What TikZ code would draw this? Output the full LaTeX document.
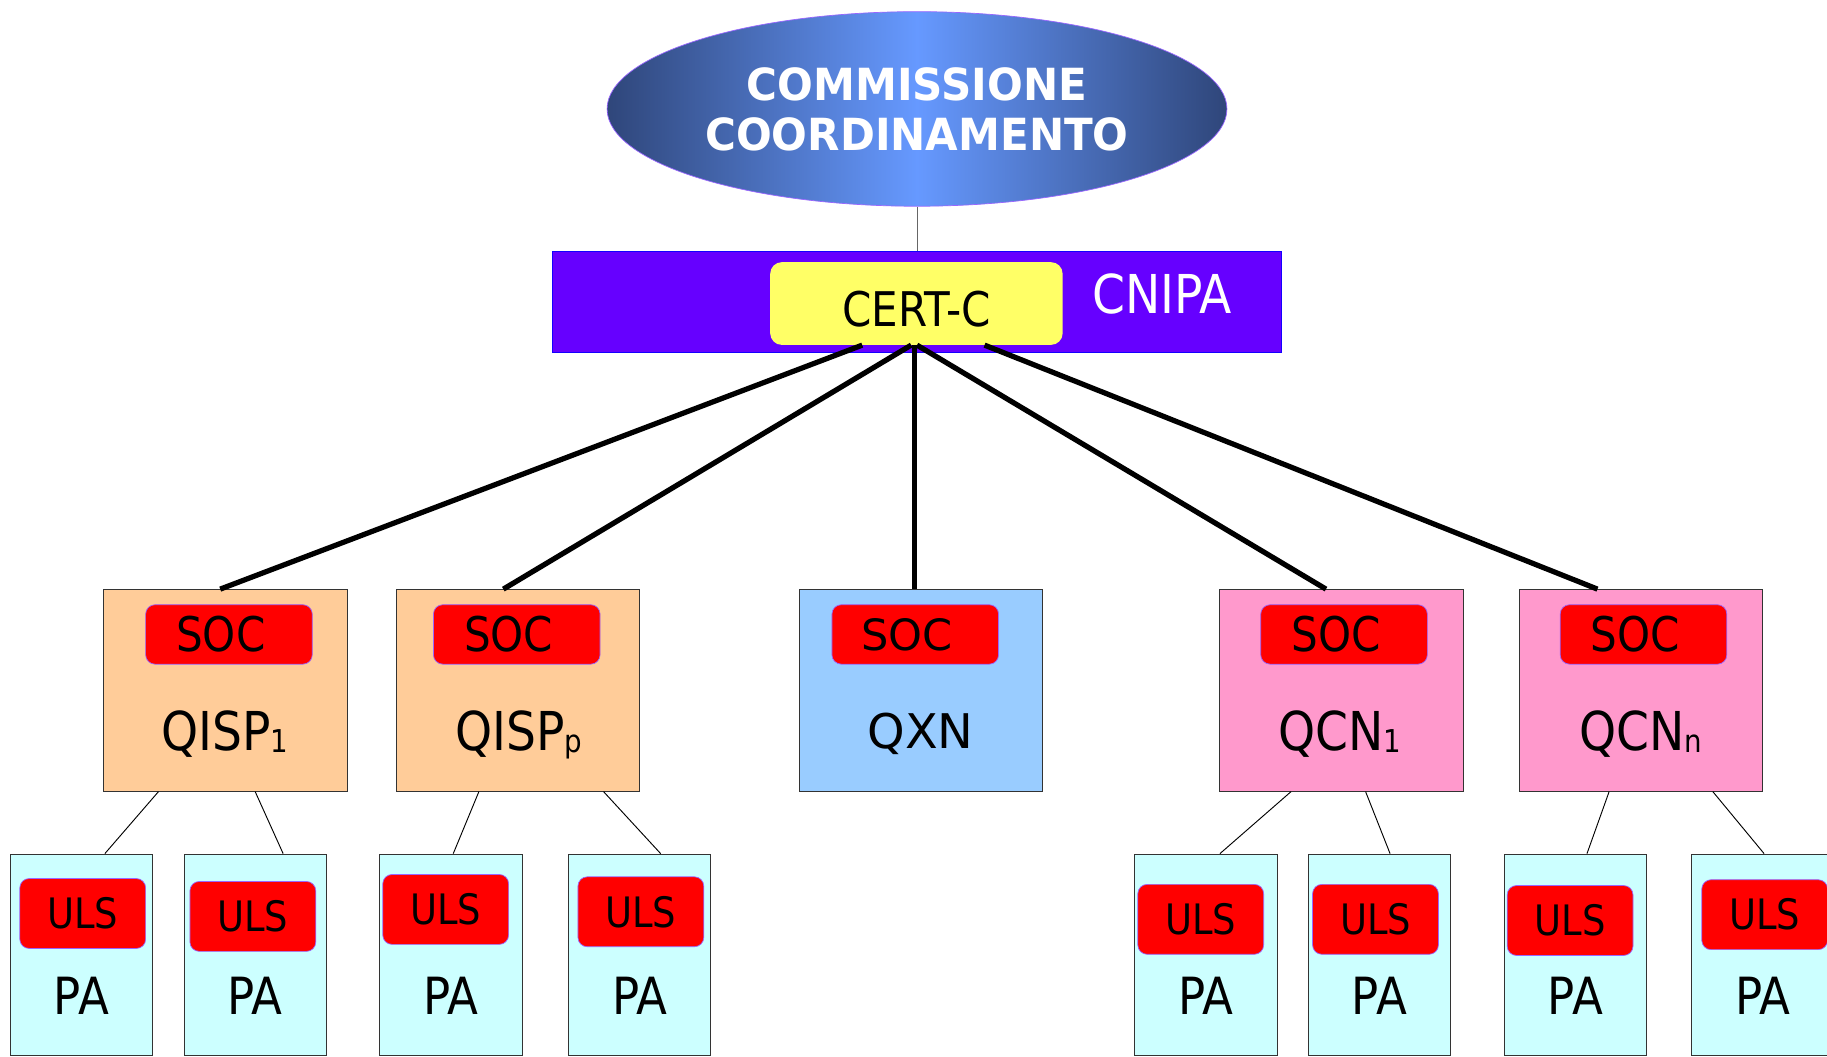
\documentclass[tikz,border=0pt]{standalone}
\usepackage{fontspec}
\setmainfont{DejaVu Sans}
\newfontfamily\condfont[FakeStretch=0.88]{DejaVu Sans}
\newfontfamily\titlefont[FakeStretch=0.95]{DejaVu Sans}
\usetikzlibrary{shapes.geometric,calc}

\definecolor{bandviolet}{HTML}{6600FF}
\definecolor{certyellow}{HTML}{FFFF66}
\definecolor{peach}{HTML}{FFCC99}
\definecolor{skyblue}{HTML}{99CCFF}
\definecolor{rosepink}{HTML}{FF99CC}
\definecolor{paleaqua}{HTML}{CCFFFF}
\definecolor{alarmred}{HTML}{FF0000}
\definecolor{rimviolet}{HTML}{9966FF}
\definecolor{navyedge}{HTML}{2F467A}
\definecolor{cornflower}{HTML}{6699FF}

% small index set on the baseline after a unit name
\newcommand{\lowidx}[1]{{\fontsize{27}{27}\selectfont\raisebox{-2pt}{#1}}}

\tikzset{
  unitbox/.style={draw=black!80, line width=0.8pt, minimum width=209, minimum height=173, inner sep=0},
  pabox/.style={draw=black!80, line width=0.8pt, fill=paleaqua, minimum width=122, minimum height=173, inner sep=0},
  redtag/.style={draw=rimviolet, line width=0.6pt, fill=alarmred, rounded corners=8pt, inner sep=0, text=black},
  soctag/.style={redtag, minimum width=143, minimum height=51, font=\condfont\fontsize{41}{41}\selectfont},
  ulstag/.style={redtag, minimum width=108, minimum height=60, font=\condfont\fontsize{36}{36}\selectfont},
  unitname/.style={font=\condfont\fontsize{46}{46}\selectfont, inner sep=0, text depth=0pt},
  paname/.style={font=\condfont\fontsize{44}{44}\selectfont, inner sep=0, text depth=0pt},
  trunk/.style={line width=4.5pt, black},
  twig/.style={line width=0.8pt, black},
}

\begin{document}
\begin{tikzpicture}[x=1pt,y=-1pt]
\useasboundingbox (0,0) rectangle (1568,907);
\fill[white] (0,0) rectangle (1568,907);

% coordinating committee
\node[ellipse, minimum width=532, minimum height=167, inner sep=0,
      draw=rimviolet, line width=0.6pt,
      left color=navyedge, right color=navyedge, middle color=cornflower,
      text=white, align=center,
      font=\titlefont\bfseries\fontsize{38}{43}\selectfont]
  (ell) at (787,93.5) {COMMISSIONE\\COORDINAMENTO};

% CNIPA band with CERT-C
\node[fill=bandviolet, draw=blue!80!bandviolet, line width=0.6pt,
      minimum width=626, minimum height=86, inner sep=0] (cnipa) at (787,259) {};
\draw[line width=0.8pt, black!60] (ell.south) -- (ell.south |- cnipa.north);
\node[fill=certyellow, rounded corners=10pt, minimum width=251, minimum height=71,
      inner sep=0, text height=39pt, text depth=0pt,
      font=\condfont\fontsize{41}{41}\selectfont] (cert) at (786.5,260.5) {CERT-C};
\node[text=white, inner sep=0, font=\condfont\fontsize{46}{46}\selectfont] (cnipalbl) at (997.5,252) {CNIPA};

% second level units
\node[unitbox, fill=peach]    (q1)  at (193.5,592.5) {};
\node[unitbox, fill=peach]    (qp)  at (444.5,592.5) {};
\node[unitbox, fill=skyblue]  (qx)  at (790.5,592.5) {};
\node[unitbox, fill=rosepink] (qc1) at (1151.5,592.5) {};
\node[unitbox, fill=rosepink] (qcn) at (1408.5,592.5) {};

\node[soctag] (s1)  at (196.5,544.5)  {SOC\hspace*{14pt}};
\node[soctag] (sp)  at (443.5,544.5)  {SOC\hspace*{14pt}};
\node[soctag, font=\fontsize{37}{37}\selectfont] (sx) at (785.5,544.5) {SOC\hspace*{14pt}};
\node[soctag] (sc1) at (1153.5,544.5) {SOC\hspace*{14pt}};
\node[soctag] (scn) at (1410.5,544.5) {SOC\hspace*{14pt}};

\node[unitname] (q1t)  at (193,627)  {QISP\lowidx{1}};
\node[unitname] (qpt)  at (445,627)  {QISP\lowidx{p}};
\node[unitname, font=\fontsize{41}{41}\selectfont] (qxt) at (790,627) {QXN};
\node[unitname] (qc1t) at (1150,627) {QCN\lowidx{1}};
\node[unitname] (qcnt) at (1408,627) {QCN\lowidx{n}};

% links from CERT-C
\draw[trunk] ([xshift=-46.5pt]cert.south) -- ([xshift=-4.5pt]q1.north);
\draw[trunk] ([xshift=-4.5pt]cert.south)  -- ([xshift=-12.5pt]qp.north);
\draw[trunk] ([xshift=-1.5pt]cert.south)  -- ([xshift=-5.5pt]qx.north);
\draw[trunk] ([xshift=0.5pt]cert.south)   -- ([xshift=-13.5pt]qc1.north);
\draw[trunk] ([xshift=58.5pt]cert.south)  -- ([xshift=-37.5pt]qcn.north);

% local administrations
\foreach \n/\x/\ux/\uy in {pa1/70/71/784, pa2/219/217/786.5, pa3/387/382.5/780.5,
    pa4/549/550/782.5, pa5/1035/1030.5/789, pa6/1184/1180.5/789,
    pa7/1352/1347.5/790, pa8/1513/1514.5/785} {
  \node[pabox] (\n) at (\x,819.5) {};
  \node[ulstag] (\n u) at (\ux,\uy) {ULS};
  \node[paname] (\n t) at (\x,855) {PA};
}

\draw[twig] ([xshift=-57.5pt]q1.south)  -- ([xshift=20pt]pa1.north);
\draw[twig] ([xshift=25.5pt]q1.south)   -- ([xshift=24pt]pa2.north);
\draw[twig] ([xshift=-33.5pt]qp.south)  -- ([xshift=2pt]pa3.north);
\draw[twig] ([xshift=73.5pt]qp.south)   -- ([xshift=18pt]pa4.north);
\draw[twig] ([xshift=-43.5pt]qc1.south) -- ([xshift=12pt]pa5.north);
\draw[twig] ([xshift=20.5pt]qc1.south)  -- ([xshift=9pt]pa6.north);
\draw[twig] ([xshift=-27.5pt]qcn.south) -- ([xshift=10pt]pa7.north);
\draw[twig] ([xshift=61.5pt]qcn.south)  -- ([xshift=1pt]pa8.north);
\end{tikzpicture}
\end{document}
